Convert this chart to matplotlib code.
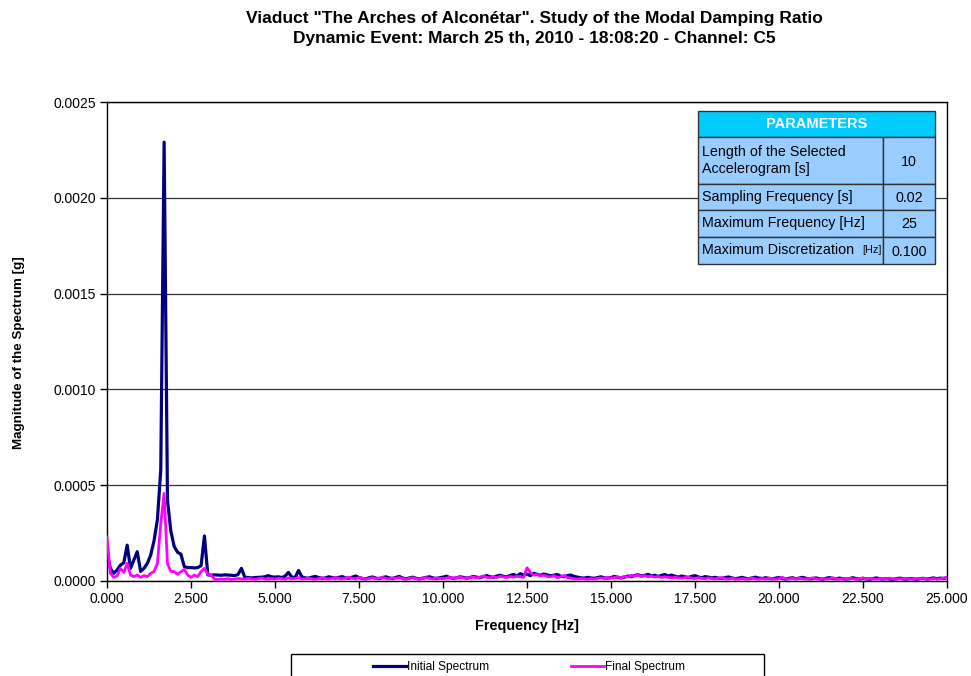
import numpy as np
import matplotlib
matplotlib.use("Agg")
import matplotlib.pyplot as plt
from matplotlib.patches import Rectangle
from matplotlib.ticker import FormatStrFormatter, MultipleLocator

plt.rcParams['font.family'] = ['Liberation Sans', 'DejaVu Sans']

# spectrum values, 0.0 .. 25.0 Hz every 0.1 Hz, in units of 1e-5 g
initial = [
    15, 6.6, 4, 5.7, 8.3, 9.5, 18.7, 6.6, 11, 15.3,
    5, 6.6, 9.2, 13.5, 21, 32, 58, 229, 42, 26,
    18, 15, 14, 7.5, 7, 7, 6.8, 7, 8, 23.5,
    3.2, 3, 3.2, 3.1, 3.0, 3.2, 3.1, 3.0, 2.8, 3.4,
    6.6, 2.0, 1.8, 1.6, 1.8, 1.9, 2.0, 2.2, 2.8, 2.2,
    2.0, 2.2, 1.8, 2.5, 4.5, 2.0, 1.8, 5.5, 2.2, 1.6,
    1.5, 2.0, 2.4, 1.8, 1.4, 1.6, 2.2, 1.8, 1.5, 1.9,
    2.3, 1.6, 1.4, 2.0, 2.6, 1.8, 1.3, 1.1, 1.7, 2.1,
    1.5, 1.2, 1.8, 2.2, 1.6, 1.3, 1.9, 2.4, 1.5, 1.2,
    1.6, 2.0, 1.4, 1.1, 1.5, 1.9, 2.2, 1.6, 1.3, 1.7,
    2.0, 2.5, 1.8, 1.4, 1.6, 2.2, 1.9, 1.5, 1.8, 2.4,
    2.0, 1.7, 2.3, 2.8, 2.2, 1.9, 2.6, 3.0, 2.4, 2.1,
    2.9, 3.4, 2.6, 3.8, 3.2, 3.6, 2.8, 4.0, 3.5, 3.0,
    3.6, 3.2, 2.7, 3.0, 3.4, 2.5, 2.2, 2.8, 3.1, 2.4,
    2.0, 1.7, 1.5, 1.9, 1.6, 1.4, 1.8, 2.2, 1.6, 1.5,
    1.8, 2.4, 1.9, 1.6, 2.0, 2.6, 2.2, 2.8, 3.3, 2.6,
    2.9, 3.5, 2.7, 3.0, 2.4, 2.9, 3.4, 2.6, 3.1, 2.5,
    2.0, 2.6, 2.2, 1.8, 2.4, 2.8, 2.1, 1.7, 2.3, 2.0,
    1.6, 1.9, 1.5, 1.3, 1.8, 2.1, 1.6, 1.2, 1.5, 1.9,
    1.4, 1.2, 1.6, 2.0, 1.5, 1.3, 1.7, 1.4, 1.1, 1.5,
    1.8, 1.3, 1.0, 1.4, 1.7, 1.2, 1.5, 1.9, 1.4, 1.1,
    1.3, 1.6, 1.2, 1.0, 1.4, 1.8, 1.3, 1.1, 1.5, 1.2,
    1.0, 1.3, 1.7, 1.2, 1.0, 1.4, 1.1, 0.9, 1.3, 1.6,
    1.2, 1.0, 1.3, 1.1, 0.9, 1.2, 1.5, 1.1, 1.0, 1.3,
    1.1, 0.9, 1.2, 1.4, 1.0, 1.3, 1.6, 1.2, 1.5, 1.3,
    1.8,
]
final = [
    23, 4, 1.9, 2.6, 6.6, 4.5, 9.2, 3.1, 2.3, 3.1,
    1.9, 2.8, 2.3, 4, 4.9, 9.2, 30, 45.7, 9, 5,
    4.9, 3.5, 4.9, 6, 3.1, 1.9, 3.1, 2.3, 4.9, 6.6,
    3.5, 3.1, 0.9, 0.8, 1.0, 0.9, 1.2, 0.8, 1.0, 1.3,
    1.1, 0.9, 1.4, 1.0, 0.8, 1.2, 1.5, 1.1, 0.9, 1.3,
    1.0, 1.4, 1.2, 0.9, 1.6, 1.1, 1.3, 1.8, 1.0, 1.2,
    1.5, 1.1, 0.9, 1.3, 1.7, 1.2, 1.0, 1.4, 1.9, 1.3,
    1.1, 1.6, 2.0, 1.4, 1.2, 1.8, 1.5, 1.0, 1.3, 1.7,
    1.2, 1.5, 1.9, 1.3, 1.1, 1.6, 1.4, 1.8, 1.2, 1.0,
    1.4, 1.7, 1.2, 1.0, 1.5, 1.8, 1.3, 1.1, 1.6, 1.4,
    1.2, 1.5, 1.9, 1.4, 1.7, 2.2, 1.6, 1.4, 1.8, 2.1,
    1.7, 2.0, 2.6, 1.9, 1.6, 2.2, 1.8, 2.4, 2.1, 1.9,
    2.3, 2.0, 2.5, 2.2, 1.9, 6.9, 4.5, 3.0, 3.4, 2.6,
    3.0, 2.4, 2.1, 2.8, 1.7, 2.2, 2.9, 1.8, 1.5, 1.2,
    1.0, 1.3, 1.1, 0.9, 1.2, 1.0, 1.4, 1.6, 1.3, 1.9,
    1.5, 1.8, 2.2, 1.7, 2.5, 2.0, 3.0, 2.6, 3.1, 2.4,
    2.8, 2.2, 2.6, 2.0, 2.4, 1.8, 2.2, 1.9, 1.6, 2.0,
    1.7, 1.4, 1.8, 2.1, 1.5, 1.3, 1.7, 1.4, 1.2, 1.6,
    1.3, 1.1, 1.5, 1.8, 1.2, 1.0, 1.4, 1.1, 0.9, 1.3,
    1.0, 1.2, 1.6, 1.1, 0.9, 1.3, 1.0, 1.4, 1.2, 0.9,
    1.3, 1.9, 1.2, 1.0, 1.4, 1.1, 1.5, 1.2, 1.0, 1.3,
    1.6, 1.1, 0.9, 1.3, 1.0, 1.2, 1.7, 1.1, 0.9, 1.2,
    1.0, 1.4, 1.1, 0.9, 1.2, 1.6, 1.0, 1.3, 1.1, 0.9,
    1.2, 1.0, 1.3, 1.5, 1.1, 0.9, 1.2, 1.0, 1.3, 1.1,
    0.9, 1.2, 1.0, 1.4, 1.1, 0.9, 1.3, 1.0, 1.2, 1.5,
    1.9,
]
freq = np.round(np.arange(len(initial)) * 0.1, 1)
initial = np.array(initial) * 1e-5
final = np.array(final) * 1e-5

param_labels = ["Length of the Selected\nAccelerogram [s]", "Sampling Frequency [s]",
                "Maximum Frequency [Hz]", "Maximum Discretization"]
param_values = ["10", "0.02", "25", "0.100"]

W, H = 971, 676
fig = plt.figure(figsize=(W / 100, H / 100), dpi=100)
ax = fig.add_axes([107 / W, 1 - 581 / H, 840 / W, 479 / H])

ax.plot(freq, initial, color="#000080", lw=2.3, label="Initial Spectrum", zorder=3)
ax.plot(freq, final, color="#FF00FF", lw=2.0, label="Final Spectrum", zorder=4)

ax.set_xlim(0, 25)
ax.set_ylim(0, 0.0025)
ax.xaxis.set_major_locator(MultipleLocator(2.5))
ax.yaxis.set_major_locator(MultipleLocator(0.0005))
ax.xaxis.set_major_formatter(FormatStrFormatter("%.3f"))
ax.yaxis.set_major_formatter(FormatStrFormatter("%.4f"))
ax.tick_params(labelsize=10, length=5, width=1, direction="out", pad=3)
ax.grid(axis="y", color="#333333", lw=0.9)
ax.set_axisbelow(True)
for s in ax.spines.values():
    s.set_color("black")
    s.set_linewidth(1.0)

ax.set_xlabel("Frequency [Hz]", fontsize=10.4, fontweight="bold")
ax.xaxis.set_label_coords((527 - 107) / 840, -(619 - 581) / 479)
ax.set_ylabel("Magnitude of the Spectrum [g]", fontsize=9.6, fontweight="bold")
ax.yaxis.set_label_coords(-(107 - 25) / 840, (581 - 353) / 479)

fig.text(534 / W, 1 - 19 / H, 'Viaduct "The Arches of Alconétar". Study of the Modal Damping Ratio',
         ha="center", va="center", fontsize=12.5, fontweight="bold")
fig.text(534 / W, 1 - 39 / H, "Dynamic Event: March 25 th, 2010 - 18:08:20 - Channel: C5",
         ha="center", va="center", fontsize=12.5, fontweight="bold")

# parameters table (pixel layout)
def fx(px):
    return px / W

def fy(py):
    return 1 - py / H

x0, x1, x2 = 698, 883, 935
fig.add_artist(Rectangle((fx(x0), fy(137)), fx(x2) - fx(x0), fy(111) - fy(137),
                         transform=fig.transFigure, facecolor="#00CCFF", edgecolor="#333333", lw=1))
fig.text(fx((x0 + x2) / 2), fy(124), "PARAMETERS", color="white", fontweight="bold",
         fontsize=10.5, ha="center", va="center")
rows = [137, 184, 210, 237, 264]
for i in range(len(param_labels)):
    ya, yb = rows[i], rows[i + 1]
    fig.add_artist(Rectangle((fx(x0), fy(yb)), fx(x1) - fx(x0), fy(ya) - fy(yb),
                             transform=fig.transFigure, facecolor="#99CCFF", edgecolor="#333333", lw=1))
    fig.add_artist(Rectangle((fx(x1), fy(yb)), fx(x2) - fx(x1), fy(ya) - fy(yb),
                             transform=fig.transFigure, facecolor="#99CCFF", edgecolor="#333333", lw=1))
    fig.text(fx(x0 + 4), fy((ya + yb) / 2), param_labels[i], fontsize=10.3, ha="left", va="center",
             linespacing=1.25)
    fig.text(fx((x1 + x2) / 2), fy((ya + yb) / 2 + 1), param_values[i], fontsize=10.3,
             ha="center", va="center")
fig.text(fx(x1 - 1), fy(250), "[Hz]", fontsize=7.8, ha="right", va="center")

# legend box cut by the bottom edge
fig.add_artist(Rectangle((fx(291), -0.02), fx(764) - fx(291), fy(654) + 0.02,
                         transform=fig.transFigure, facecolor="white", edgecolor="black", lw=1))
fig.legend(loc="center", bbox_to_anchor=(fx(529), fy(667)), ncol=2, frameon=False,
           fontsize=8.6, handlelength=2.7, handletextpad=0.1, columnspacing=6.9)

fig.savefig("out.png", dpi=100)
